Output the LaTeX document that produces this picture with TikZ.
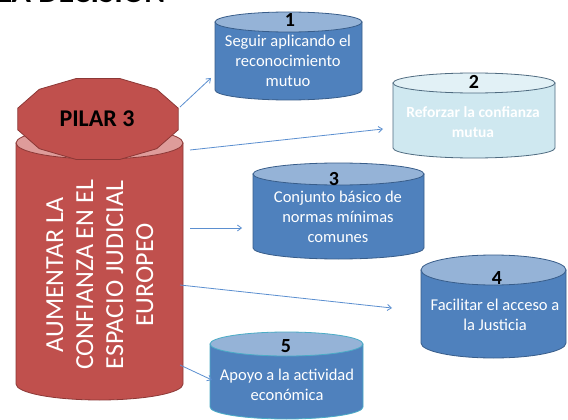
\documentclass[tikz,border=0pt]{standalone}
\usepackage{fontspec}
\setmainfont{Carlito}
\usetikzlibrary{arrows.meta}
\definecolor{redbody}{HTML}{C0504D}
\definecolor{redline}{HTML}{8C3836}
\definecolor{redtop}{HTML}{DE9C9A}
\definecolor{bluebody}{HTML}{4F81BD}
\definecolor{bluetop}{HTML}{95B3D7}
\definecolor{blueline}{HTML}{385D8A}
\definecolor{cyanline}{HTML}{4BACC6}
\definecolor{lightbody}{HTML}{CFE8F0}
\definecolor{lighttop}{HTML}{E2F1F6}
\definecolor{lightline}{HTML}{4F6B80}
\definecolor{arrowcol}{HTML}{5B8FD0}
\newcommand\drawcyl[9]{%
  \pgfmathsetmacro\cylcx{(#2+#3)/2}%
  \pgfmathsetmacro\cylrx{(#3-#2)/2}%
  \pgfmathsetmacro\cylcy{(#4+#5)/2}%
  \pgfmathsetmacro\cylw{#3-#2}%
  \pgfmathsetmacro\cylh{#5-#4+2*#6}%
  \draw[draw=#9, fill=#7, line width=0.8pt] (#2,#4) -- (#2,#5)
    arc[start angle=180, end angle=0, x radius=\cylrx, y radius=#6] -- (#3,#4) -- cycle;
  \draw[draw=#9, fill=#8, line width=0.8pt] (\cylcx,#4) ellipse[x radius=\cylrx, y radius=#6];
  \node[inner sep=0pt, minimum width=\cylw pt, minimum height=\cylh pt] (#1) at (\cylcx,\cylcy) {};
}
\tikzset{
  numtxt/.style={font=\bfseries\fontsize{20}{22}\selectfont, text=black, inner sep=0pt},
  bodytxt/.style={font=\fontsize{16.5}{20}\selectfont, text=white, align=center, inner sep=0pt},
  conn/.style={draw=arrowcol, line width=0.8pt, -{Straight Barb[length=4pt,width=6pt]}},
}
\begin{document}
\begin{tikzpicture}[x=1pt,y=-1pt]
\useasboundingbox[fill=white] (0,0) rectangle (568,420);
% clipped heading at top edge
\begin{scope}
\clip (0,0) rectangle (568,420);
\node[anchor=base west, font=\bfseries\fontsize{32}{34}\selectfont, inner sep=0pt] (head) at (-2,3) {LA DECISIÓN};
\end{scope}
% big red cylinder
\drawcyl{pilar}{16}{183}{143}{384}{16}{redbody}{redtop}{redline}
\draw[draw=redline, fill=redbody, line width=0.8pt]
  plot[samples at={15,45,...,345}, variable=\a] ({98+83*cos(\a)}, {119+42*sin(\a)}) -- cycle;
\node[font=\bfseries\fontsize{24}{26}\selectfont, text=black, inner sep=0pt] (pilarcap) at (97,119) {PILAR 3};
\node[rotate=90, text=white, font=\fontsize{26}{30}\selectfont, align=center, inner sep=0pt] (pilartxt) at (100,275)
  {AUMENTAR LA\\CONFIANZA EN EL\\ESPACIO JUDICIAL\\EUROPEO};
% blue cylinders
\drawcyl{c1}{215}{362}{22}{90}{10}{bluebody}{bluetop}{blueline}
\drawcyl{c2}{393}{555}{83}{148}{10}{lightbody}{lighttop}{lightline}
\drawcyl{c3}{253}{424}{174}{248}{11}{bluebody}{bluetop}{blueline}
\drawcyl{c4}{421}{566}{270}{343}{15}{bluebody}{bluetop}{blueline}
\drawcyl{c5}{210}{363}{344}{407}{12}{bluebody}{bluetop}{cyanline}
% numbers
\node[numtxt] (n1) at (290,20) {1};
\node[numtxt] (n2) at (474,82) {2};
\node[numtxt] (n3) at (334,179) {3};
\node[numtxt] (n4) at (497,278) {4};
\node[numtxt] (n5) at (286,346) {5};
% texts
\node[bodytxt] (t1) at (288,61) {Seguir aplicando el\\reconocimiento\\mutuo};
\node[bodytxt, font=\bfseries\fontsize{15.5}{20}\selectfont] (t2) at (473,122) {Reforzar la confianza\\mutua};
\node[bodytxt] (t3) at (338,217) {Conjunto básico de\\normas mínimas\\comunes};
\node[bodytxt] (t4) at (495,315) {Facilitar el acceso a\\la Justicia};
\node[bodytxt] (t5) at (287,385) {Apoyo a la actividad\\económica};
% connectors
\coordinate (a1s) at (180,107); \coordinate (a1e) at (211,78);
\coordinate (a2s) at (190,150); \coordinate (a2e) at (383,129);
\coordinate (a3s) at (190,228); \coordinate (a3e) at (242,228);
\coordinate (a4s) at (180,285); \coordinate (a4e) at (392,308);
\coordinate (a5s) at (180,365); \coordinate (a5e) at (212,380);
\draw[conn] (a1s) -- (a1e);
\draw[conn] (a2s) -- (a2e);
\draw[conn] (a3s) -- (a3e);
\draw[conn] (a4s) -- (a4e);
\draw[conn] (a5s) -- (a5e);
\end{tikzpicture}
\end{document}
